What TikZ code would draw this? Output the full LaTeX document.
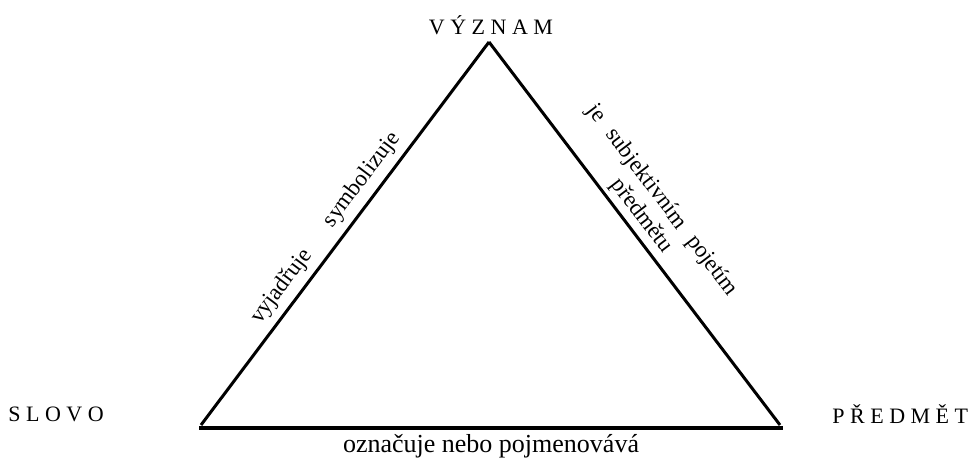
\documentclass[tikz,border=0pt]{standalone}
\usepackage{fontspec}
\setmainfont{Liberation Serif}
\newfontfamily\capsfont[LetterSpace=25]{Liberation Serif}
\tikzset{
  corner/.style={font=\capsfont\fontsize{11}{13}\selectfont, inner sep=0pt},
  edgelabel/.style={font=\fontsize{11.5}{13}\selectfont, sloped},
  side/.style={line width=1.5pt},
}
\begin{document}
\begin{tikzpicture}[x=0.5pt, y=0.5pt]
    \useasboundingbox (0,0) rectangle (974,457);
    % corners of the triangle (pixel grid of the reference, y up)
    \coordinate (top) at (489,415);
    \coordinate (left) at (201,32);
    \coordinate (right) at (780,32);
    \coordinate (baseL) at (199,29);
    \coordinate (baseR) at (783,29);
    \node[corner] (vyznam) at (491,432) {VÝZNAM};
    \node[corner, anchor=west] (slovo) at (8,43) {SLOVO};
    \node[corner, anchor=west] (predmet) at (832,43) {PŘEDMĚT};
    \draw[side] (left) -- node[edgelabel, pos=0.332, above] (vyjadruje) {vyjadřuje}
        node[edgelabel, pos=0.611, above] (symbolizuje) {symbolizuje} (top);
    \draw[side] (top) -- node[edgelabel, pos=0.48, above, align=center, inner sep=2pt] (pojeti)
        {je\hspace{0.6em}subjektivním\hspace{0.6em}pojetím\\předmětu\hspace{1.5em}} (right);
    \draw[line width=2pt] (baseL) -- node[below, inner sep=2pt, font=\fontsize{13}{14}\selectfont] (oznacuje) {označuje nebo pojmenovává} (baseR);
\end{tikzpicture}
\end{document}
